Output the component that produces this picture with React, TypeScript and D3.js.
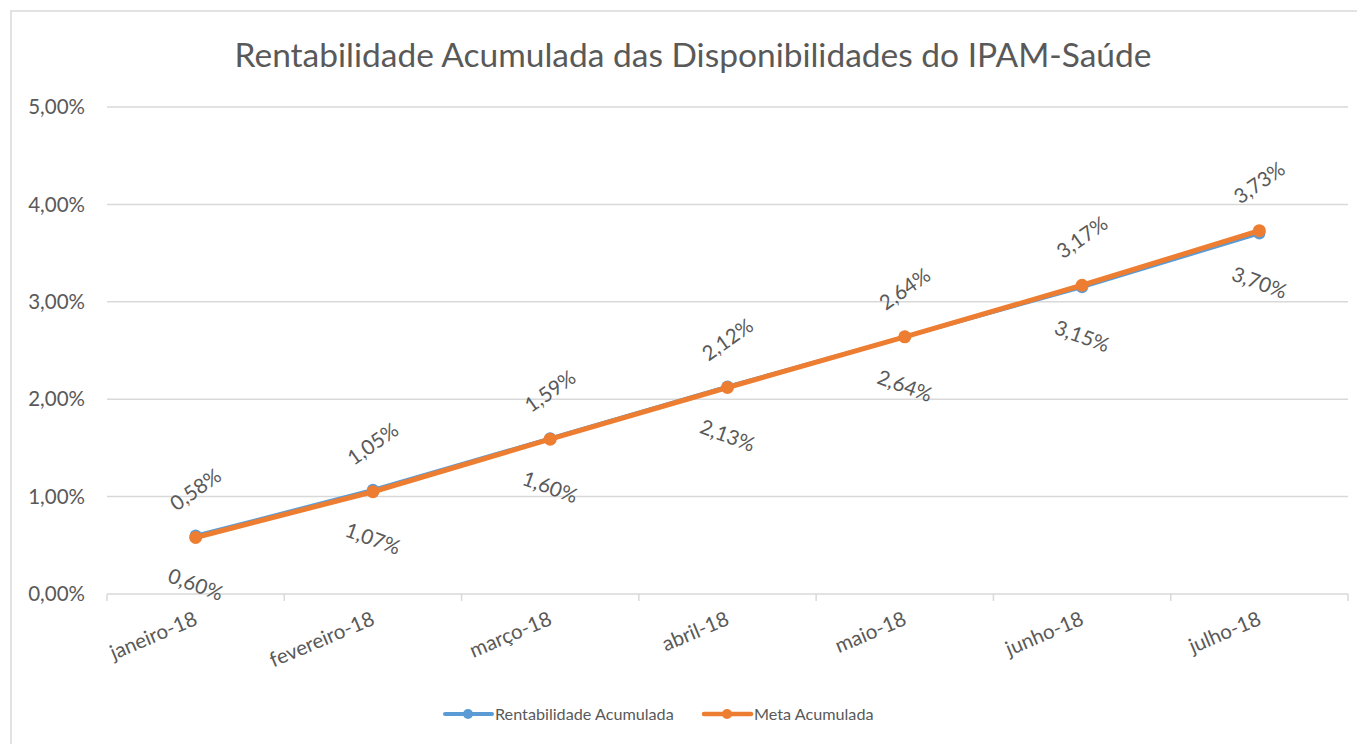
import React from 'react'
import * as d3 from 'd3'

const months = ['janeiro-18', 'fevereiro-18', 'março-18', 'abril-18', 'maio-18', 'junho-18', 'julho-18']
const rentabilidade = [0.60, 1.07, 1.60, 2.13, 2.64, 3.15, 3.70]
const meta = [0.58, 1.05, 1.59, 2.12, 2.64, 3.17, 3.73]
const yTicks = [0, 1, 2, 3, 4, 5]

const BLUE = '#5B9BD5'
const ORANGE = '#ED7D31'
const TEXT = '#595959'
const GRID = '#D9D9D9'
const FONT = 'Lato, "Open Sans", sans-serif'

const ptFormat = d3.formatLocale({ decimal: ',', thousands: '.', grouping: [3], currency: ['R$', ''] }).format('.2f')
const pct = (v: number) => ptFormat(v) + '%'

export default function App() {
  const width = 1357
  const height = 744

  const x = d3.scaleBand().domain(months).range([107, 1348])
  const y = d3.scaleLinear().domain([0, 5]).range([594, 107])
  const cx = (m: string) => (x(m) || 0) + x.bandwidth() / 2

  const line = d3.line<number>()
    .x((_, i) => cx(months[i]))
    .y(d => y(d))

  const boundaries = [...months.map(m => x(m) || 0), x.range()[1]]

  return (
    <svg width={width} height={height} style={{ position: 'absolute', left: 0, top: 0, background: '#fff' }}
      fontFamily={FONT}>
      <rect x={11} y={11} width={width + 20} height={height + 20} fill="#fff" stroke={GRID} strokeWidth={1.5} />
      <text x={693} y={67} textAnchor="middle" fontSize={33.5} fill={TEXT}>
        Rentabilidade Acumulada das Disponibilidades do IPAM-Saúde
      </text>

      {yTicks.map(t => (
        <g key={t}>
          {t > 0 && <line x1={107} x2={1348} y1={y(t)} y2={y(t)} stroke={GRID} strokeWidth={1.5} />}
          <text x={85} y={y(t)} dy="0.35em" textAnchor="end" fontSize={20.5} fill={TEXT}>{pct(t)}</text>
        </g>
      ))}

      <line x1={107} x2={1348} y1={y(0)} y2={y(0)} stroke={GRID} strokeWidth={1.5} />
      {boundaries.map((b, i) => (
        <line key={i} x1={b} x2={b} y1={y(0)} y2={y(0) + 7} stroke={GRID} strokeWidth={1.5} />
      ))}
      {months.map(m => (
        <text key={m} transform={`translate(${cx(m) + 3},${y(0) + 30}) rotate(-23)`} textAnchor="end"
          fontSize={20.5} fill={TEXT}>{m}</text>
      ))}

      <path d={line(rentabilidade) || ''} fill="none" stroke={BLUE} strokeWidth={3.5} strokeLinejoin="round" />
      {rentabilidade.map((v, i) => (
        <circle key={i} cx={cx(months[i])} cy={y(v)} r={6} fill={BLUE} />
      ))}
      <path d={line(meta) || ''} fill="none" stroke={ORANGE} strokeWidth={5} strokeLinejoin="round" />
      {meta.map((v, i) => (
        <circle key={i} cx={cx(months[i])} cy={y(v)} r={6.5} fill={ORANGE} />
      ))}

      {meta.map((v, i) => (
        <text key={'m' + i} transform={`translate(${cx(months[i])},${y(v) - 48}) rotate(-35)`} textAnchor="middle"
          dy="0.35em" fontSize={20.5} fill={TEXT}>{pct(v)}</text>
      ))}
      {rentabilidade.map((v, i) => (
        <text key={'r' + i} transform={`translate(${cx(months[i])},${y(v) + 49}) rotate(20)`} textAnchor="middle"
          dy="0.35em" fontSize={20.5} fill={TEXT}>{pct(v)}</text>
      ))}

      <g fontSize={16.2} fill={TEXT}>
        <line x1={445} x2={492} y1={714} y2={714} stroke={BLUE} strokeWidth={4} strokeLinecap="round" />
        <circle cx={468} cy={714} r={5} fill={BLUE} />
        <text x={495} y={714} dy="0.35em">Rentabilidade Acumulada</text>
        <line x1={704} x2={751} y1={714} y2={714} stroke={ORANGE} strokeWidth={4.5} strokeLinecap="round" />
        <circle cx={727} cy={714} r={5} fill={ORANGE} />
        <text x={754} y={714} dy="0.35em">Meta Acumulada</text>
      </g>
    </svg>
  )
}
